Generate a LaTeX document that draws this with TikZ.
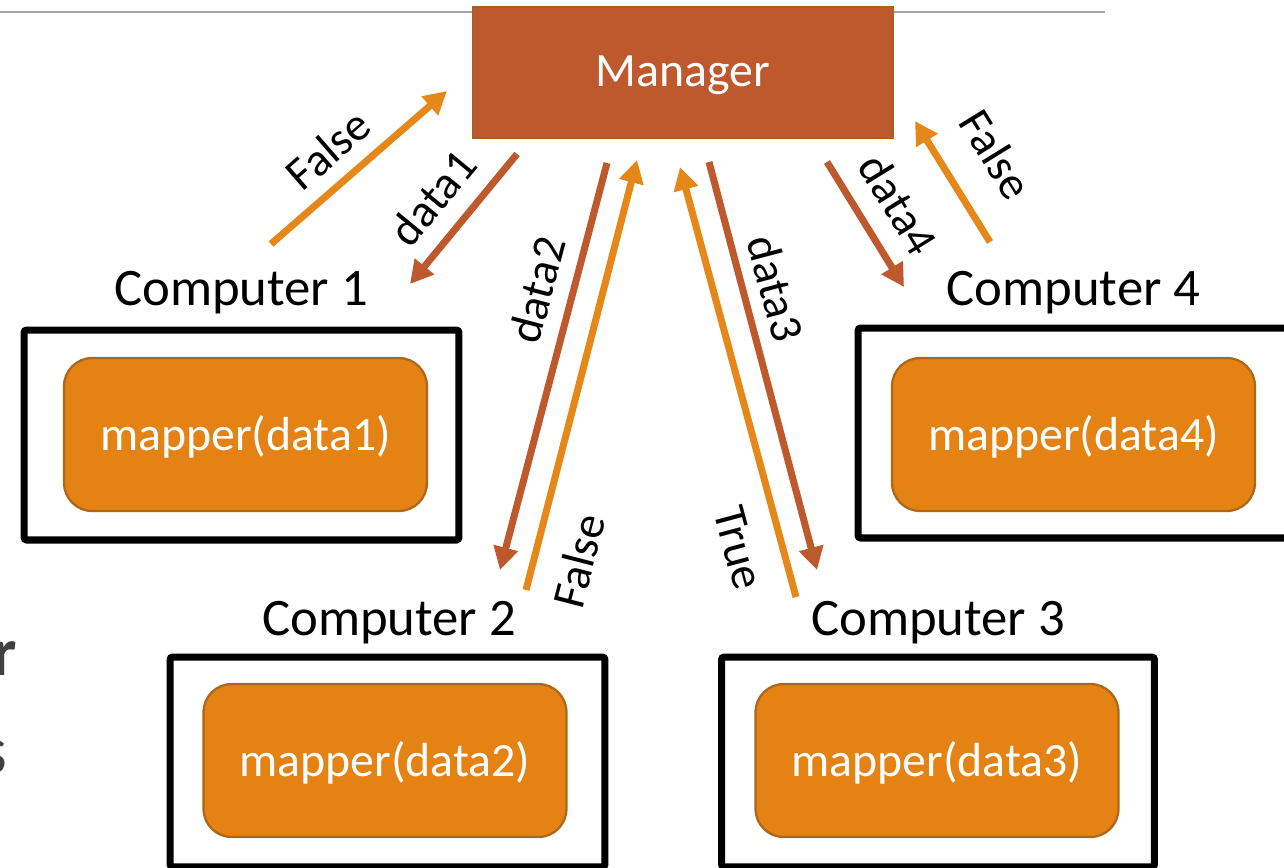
\documentclass[tikz,border=0pt]{standalone}
\usepackage{fontspec}
\setmainfont{Carlito}
\usetikzlibrary{arrows.meta,positioning}

\definecolor{mgrfill}{RGB}{190,88,45}
\definecolor{mgredge}{RGB}{168,96,32}
\definecolor{mapfill}{RGB}{228,130,20}
\definecolor{mapedge}{RGB}{176,102,26}
\definecolor{sendcol}{RGB}{190,88,45}
\definecolor{backcol}{RGB}{230,135,25}
\definecolor{rulegray}{RGB}{165,165,165}
\definecolor{fraggray}{RGB}{64,64,64}

\begin{document}
\begin{tikzpicture}
    [x=0.02cm, y=-0.02cm,
     mgrbox/.style={draw=mgredge, fill=mgrfill, line width=1.2pt,
       minimum width=8.4cm, minimum height=2.62cm, text=white,
       font=\fontsize{27.2}{31}\selectfont, text height=16pt, text depth=0pt},
     pcbox/.style={draw=black, line width=4pt, rounded corners=1.5pt,
       minimum width=8.7cm, minimum height=4.2cm, inner sep=0pt},
     mapbox/.style={draw=mapedge, fill=mapfill, line width=1.3pt,
       rounded corners=16pt, minimum width=7.26cm, minimum height=3.06cm,
       text=white, font=\fontsize{27.2}{31}\selectfont,
       text height=18pt, text depth=0pt},
     pclabel/.style={anchor=base, inner sep=0pt, font=\fontsize{30}{34}\selectfont},
     sendarrow/.style={draw=sendcol, line width=4pt,
       -{Triangle[length=13pt,width=13.6pt]}},
     backarrow/.style={draw=backcol, line width=4pt,
       -{Triangle[length=13pt,width=13.6pt]}},
     lbl/.style={sloped, inner sep=0pt, font=\fontsize{26.5}{30}\selectfont}]

    \useasboundingbox (0,0) rectangle (1284,867);

    % rule at the top of the slide:
    \coordinate (rulel) at (0,12);
    \coordinate (ruler) at (1105,12);
    \draw [rulegray, line width=1.1pt] (rulel) -- (ruler);

    % cut-off text at the left edge:
    \node (fragr) at (17,675) [anchor=base east, inner sep=0pt, text=fraggray,
      font=\fontsize{39}{44}\selectfont\bfseries] {r};
    \node (frags) at (8,773) [anchor=base east, inner sep=0pt, text=fraggray,
      font=\fontsize{39}{44}\selectfont] {s};

    % manager:
    \node (mgr) at (683,72.5) [mgrbox] {Manager};

    % computers:
    \node (pc1) at (241.5,435) [pcbox] {};
    \node (pc2) at (387.5,762) [pcbox] {};
    \node (pc3) at (938,762) [pcbox, minimum width=8.66cm] {};
    \node (pc4) at (1075.5,433) [pcbox] {};

    \node (name1) at (241,305) [pclabel] {Computer 1};
    \node (name2) at (389,635) [pclabel] {Computer 2};
    \node (name3) at (938,635) [pclabel] {Computer 3};
    \node (name4) at (1073.5,305) [pclabel] {Computer 4};

    % mappers:
    \node (map1) at (245.5,434.5) [mapbox] {mapper(data1)};
    \node (map2) at (385,760.5) [mapbox] {mapper(data2)};
    \node (map3) at (937,760.5) [mapbox] {mapper(data3)};
    \node (map4) at (1073.5,434.5) [mapbox] {mapper(data4)};

    % arrow ends:
    \coordinate (f1a) at (271,244);
    \coordinate (f1b) at (447,91);
    \coordinate (d1a) at (517,154);
    \coordinate (d1b) at (410,284);
    \coordinate (d2a) at (607,163);
    \coordinate (d2b) at (500,570);
    \coordinate (f2a) at (526,590);
    \coordinate (f2b) at (637,160);
    \coordinate (t3a) at (796,597);
    \coordinate (t3b) at (680,167);
    \coordinate (d3a) at (709,162);
    \coordinate (d3b) at (817,570);
    \coordinate (d4a) at (827,162);
    \coordinate (d4b) at (904,287);
    \coordinate (f4a) at (990,242);
    \coordinate (f4b) at (915,121);

    % connect:
    \draw [backarrow] (f1a) -- node [lbl, above, outer sep=9.9pt, pos=0.45] (lf1) {False} (f1b);
    \draw [sendarrow] (d1a) -- node [lbl, above, outer sep=11.9pt, pos=0.52] (ld1) {data1} (d1b);
    \draw [sendarrow] (d2a) -- node [lbl, above, outer sep=10.8pt, pos=0.334] (ld2) {data2} (d2b);
    \draw [backarrow] (f2a) -- node [lbl, below, outer sep=15.6pt, pos=0.093] (lf2) {False} (f2b);
    \draw [backarrow] (t3a) -- node [lbl, below, outer sep=15.6pt, pos=0.14] (lt3) {True} (t3b);
    \draw [sendarrow] (d3a) -- node [lbl, above, outer sep=9.1pt, pos=0.33] (ld3) {data3} (d3b);
    \draw [sendarrow] (d4a) -- node [lbl, above, outer sep=12.8pt, pos=0.5] (ld4) {data4} (d4b);
    \draw [backarrow] (f4a) -- node [lbl, above, outer sep=20pt, pos=0.5] (lf4) {False} (f4b);

\end{tikzpicture}
\end{document}
